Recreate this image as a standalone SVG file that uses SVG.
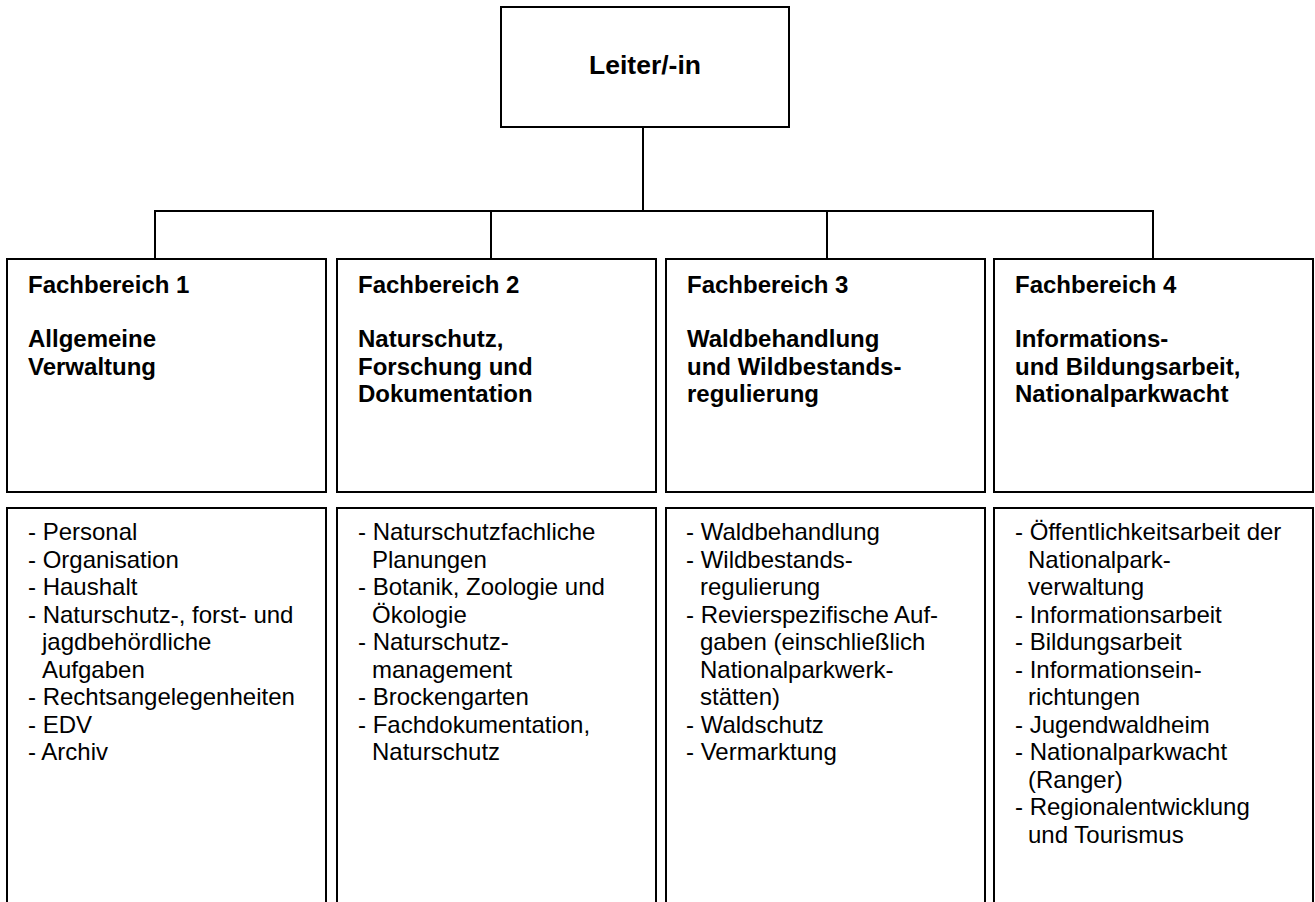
<svg xmlns="http://www.w3.org/2000/svg" width="1315" height="902" viewBox="0 0 1315 902">
<style>
rect.box{fill:#fff;stroke:#000;stroke-width:2}
.conn line{stroke:#000;stroke-width:2}
text{font-family:"Liberation Sans",Arial,sans-serif;fill:#000}
.head{font-size:24px;font-weight:bold}
.top{font-size:26.5px;font-weight:bold}
.body{font-size:24px}
</style>
<rect width="1315" height="902" fill="#fff"/>
<g class="conn" id="connectors">
<line x1="643" y1="127" x2="643" y2="211"/>
<line x1="154" y1="211" x2="1154" y2="211"/>
<line x1="155" y1="211" x2="155" y2="259"/>
<line x1="491" y1="211" x2="491" y2="259"/>
<line x1="827" y1="211" x2="827" y2="259"/>
<line x1="1153" y1="211" x2="1153" y2="259"/>
</g>
<g id="leiter">
<rect class="box" x="501" y="7" width="288" height="120"/>
<text class="top" x="645" y="74" text-anchor="middle">Leiter/-in</text>
</g>
<g id="fb1">
<rect class="box" x="7" y="259" width="319" height="233"/>
<text class="head"><tspan x="28" y="292.5">Fachbereich 1</tspan><tspan x="28" y="347">Allgemeine</tspan><tspan x="28" y="374.5">Verwaltung</tspan></text>
</g>
<g id="fb2">
<rect class="box" x="337" y="259" width="319" height="233"/>
<text class="head"><tspan x="358" y="292.5">Fachbereich 2</tspan><tspan x="358" y="347">Naturschutz,</tspan><tspan x="358" y="374.5">Forschung und</tspan><tspan x="358" y="402">Dokumentation</tspan></text>
</g>
<g id="fb3">
<rect class="box" x="666" y="259" width="319" height="233"/>
<text class="head"><tspan x="687" y="292.5">Fachbereich 3</tspan><tspan x="687" y="347">Waldbehandlung</tspan><tspan x="687" y="374.5">und Wildbestands-</tspan><tspan x="687" y="402">regulierung</tspan></text>
</g>
<g id="fb4">
<rect class="box" x="994" y="259" width="319" height="233"/>
<text class="head"><tspan x="1015" y="292.5">Fachbereich 4</tspan><tspan x="1015" y="347">Informations-</tspan><tspan x="1015" y="374.5">und Bildungsarbeit,</tspan><tspan x="1015" y="402">Nationalparkwacht</tspan></text>
</g>
<g id="aufgaben1">
<rect class="box" x="7" y="508" width="319" height="410"/>
<text class="body"><tspan x="28" y="540">- Personal</tspan><tspan x="28" y="567.5">- Organisation</tspan><tspan x="28" y="595">- Haushalt</tspan><tspan x="28" y="622.5">- Naturschutz-, forst- und</tspan><tspan x="42" y="650">jagdbehördliche</tspan><tspan x="42" y="677.5">Aufgaben</tspan><tspan x="28" y="705">- Rechtsangelegenheiten</tspan><tspan x="28" y="732.5">- EDV</tspan><tspan x="28" y="760">- Archiv</tspan></text>
</g>
<g id="aufgaben2">
<rect class="box" x="337" y="508" width="319" height="410"/>
<text class="body"><tspan x="358" y="540">- Naturschutzfachliche</tspan><tspan x="372" y="567.5">Planungen</tspan><tspan x="358" y="595">- Botanik, Zoologie und</tspan><tspan x="372" y="622.5">Ökologie</tspan><tspan x="358" y="650">- Naturschutz-</tspan><tspan x="372" y="677.5">management</tspan><tspan x="358" y="705">- Brockengarten</tspan><tspan x="358" y="732.5">- Fachdokumentation,</tspan><tspan x="372" y="760">Naturschutz</tspan></text>
</g>
<g id="aufgaben3">
<rect class="box" x="666" y="508" width="319" height="410"/>
<text class="body"><tspan x="686" y="540">- Waldbehandlung</tspan><tspan x="686" y="567.5">- Wildbestands-</tspan><tspan x="700" y="595">regulierung</tspan><tspan x="686" y="622.5">- Revierspezifische Auf-</tspan><tspan x="700" y="650">gaben (einschließlich</tspan><tspan x="700" y="677.5">Nationalparkwerk-</tspan><tspan x="700" y="705">stätten)</tspan><tspan x="686" y="732.5">- Waldschutz</tspan><tspan x="686" y="760">- Vermarktung</tspan></text>
</g>
<g id="aufgaben4">
<rect class="box" x="994" y="508" width="319" height="410"/>
<text class="body"><tspan x="1015" y="540">- Öffentlichkeitsarbeit der</tspan><tspan x="1028" y="567.5">Nationalpark-</tspan><tspan x="1028" y="595">verwaltung</tspan><tspan x="1015" y="622.5">- Informationsarbeit</tspan><tspan x="1015" y="650">- Bildungsarbeit</tspan><tspan x="1015" y="677.5">- Informationsein-</tspan><tspan x="1028" y="705">richtungen</tspan><tspan x="1015" y="732.5">- Jugendwaldheim</tspan><tspan x="1015" y="760">- Nationalparkwacht</tspan><tspan x="1028" y="787.5">(Ranger)</tspan><tspan x="1015" y="815">- Regionalentwicklung</tspan><tspan x="1028" y="842.5">und Tourismus</tspan></text>
</g>
</svg>
